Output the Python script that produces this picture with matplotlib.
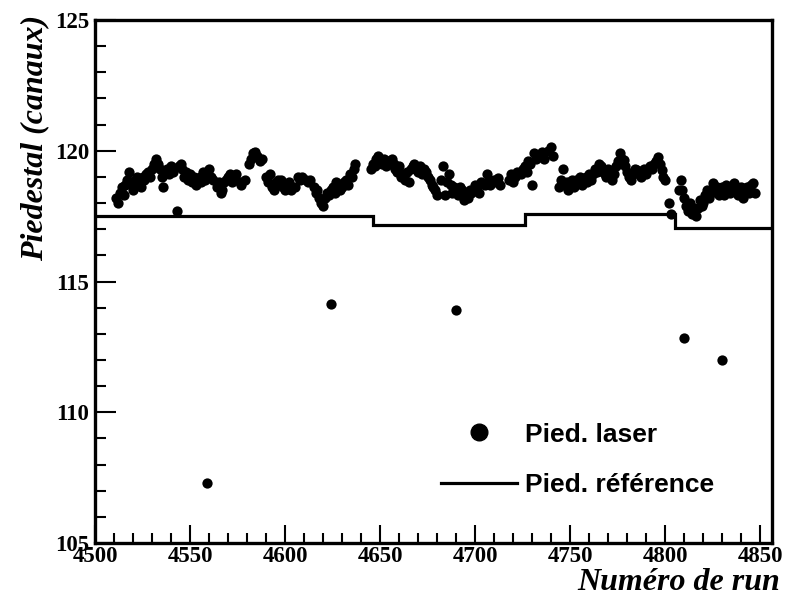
import matplotlib
matplotlib.use("Agg")
import matplotlib.pyplot as plt
from matplotlib.lines import Line2D
import numpy as np

# ---- data ----
runs = [
    4511, 4512, 4513, 4514, 4515, 4516, 4517, 4518, 4519, 4520, 4521, 4522, 4523, 4524, 4525,
    4526, 4527, 4528, 4529, 4530, 4531, 4532, 4533, 4534, 4535, 4536, 4537, 4538, 4539, 4540,
    4541, 4543, 4544, 4545, 4546, 4547, 4548, 4549, 4550, 4551, 4552, 4553, 4555, 4556, 4557,
    4558, 4559, 4560, 4561, 4562, 4564, 4565, 4566, 4567, 4568, 4569, 4570, 4571, 4572, 4573,
    4574, 4576, 4577, 4579, 4581, 4582, 4583, 4584, 4585, 4587, 4588,
    4590, 4591, 4592, 4593, 4594, 4595, 4596, 4597, 4598, 4599, 4600, 4602, 4603, 4605, 4607,
    4608, 4609, 4611, 4612, 4613, 4615, 4616, 4617, 4618, 4619, 4620, 4621, 4622, 4623, 4624,
    4625, 4626, 4627, 4628, 4629, 4630, 4631, 4632, 4633, 4634, 4635, 4636, 4637,
    4645, 4646, 4647, 4648, 4649, 4650, 4651, 4652, 4653, 4654, 4655, 4656, 4657, 4658, 4659,
    4660, 4661, 4662, 4663, 4664, 4665, 4666, 4667, 4668, 4669, 4670, 4671, 4672, 4673, 4674,
    4675, 4676, 4677, 4678, 4679, 4680,
    4682, 4683, 4684, 4685, 4686, 4687, 4688, 4689, 4691, 4692, 4693, 4694, 4695, 4696, 4697,
    4698, 4700, 4701, 4702, 4703, 4705, 4706, 4707, 4708, 4710, 4711, 4712, 4713, 4718, 4719,
    4720, 4721, 4722, 4724, 4725, 4726, 4727, 4728, 4729, 4730, 4731, 4732, 4733, 4735, 4736,
    4738, 4740, 4741,
    4744, 4745, 4746, 4747, 4748, 4749, 4750, 4751, 4752, 4753, 4754, 4755, 4756, 4757, 4758,
    4759, 4760, 4761, 4762, 4763, 4764, 4765, 4766, 4767, 4768, 4769, 4770, 4771, 4772, 4773,
    4774, 4775, 4776, 4777, 4778, 4779, 4780, 4781, 4782, 4783, 4784, 4785, 4786, 4787, 4788,
    4789, 4790, 4792, 4793, 4794, 4795, 4796, 4797, 4798, 4799, 4800, 4802, 4803,
    4807, 4808, 4809, 4810, 4811, 4812, 4813, 4814, 4815, 4816, 4817, 4818, 4819, 4820, 4821,
    4822, 4823, 4824, 4825, 4826, 4827, 4828, 4829, 4830, 4831, 4832, 4833, 4834, 4835, 4836,
    4837, 4838, 4839, 4840, 4841, 4842, 4843, 4844, 4845, 4846, 4847,
    4559, 4624, 4690, 4810, 4830,
]
pied_laser = [
    118.2, 118.0, 118.4, 118.6, 118.3, 118.7, 118.9, 119.2, 118.8, 118.5, 118.9, 119.0, 118.7, 118.6, 119.0,
    118.9, 119.1, 119.2, 119.0, 119.3, 119.5, 119.7, 119.5, 119.3, 119.0, 118.6, 119.1, 119.3, 119.1, 119.4,
    119.2, 117.7, 119.4, 119.5, 119.3, 119.0, 119.2, 118.9, 119.1, 118.8, 119.0, 118.7, 119.0, 118.8, 119.2,
    118.9, 119.1, 119.3, 119.0, 118.9, 118.6, 118.8, 118.4, 118.5, 118.8, 118.9, 119.0, 119.1, 118.8, 119.0,
    119.1, 118.8, 118.7, 118.9, 119.5, 119.7, 119.9, 119.95, 119.8, 119.6, 119.7,
    119.0, 118.8, 119.1, 118.6, 118.5, 118.8, 118.9, 118.7, 118.9, 118.6, 118.5, 118.8, 118.5, 118.6, 119.0,
    118.9, 119.0, 118.9, 118.8, 118.9, 118.6, 118.4, 118.5, 118.2, 118.0, 117.9, 118.2, 118.4, 118.3, 118.5,
    118.6, 118.4, 118.8, 118.7, 118.5, 118.6, 118.8, 118.9, 118.7, 119.1, 119.0, 119.3, 119.5,
    119.3, 119.5, 119.4, 119.7, 119.8, 119.6, 119.5, 119.7, 119.4, 119.6, 119.5, 119.7, 119.5, 119.3, 119.2,
    119.4, 119.0, 119.1, 118.9, 119.2, 118.8, 119.3, 119.4, 119.5, 119.3, 119.2, 119.4, 119.1, 119.3, 119.2,
    119.0, 118.9, 118.7, 118.6, 118.5, 118.3,
    118.9, 119.4, 118.3, 118.8, 119.1, 118.7, 118.4, 118.6, 118.3, 118.6, 118.5, 118.1, 118.3, 118.2, 118.5,
    118.4, 118.7, 118.6, 118.4, 118.8, 118.7, 119.1, 118.9, 118.7, 118.9, 118.8, 118.95, 118.7, 118.9, 119.1,
    118.8, 119.0, 119.2, 119.1, 119.3, 119.4, 119.2, 119.6, 119.5, 118.7, 119.9, 119.7, 119.8, 119.95, 119.7,
    120.0, 120.15, 119.8,
    118.6, 118.9, 119.3, 118.7, 118.8, 118.5, 118.7, 118.9, 118.6, 118.9, 118.8, 119.0, 118.7, 118.9, 119.0,
    118.8, 119.1, 118.9, 119.1, 119.3, 119.2, 119.5, 119.4, 119.2, 119.1, 119.0, 119.3, 119.1, 118.9, 119.1,
    119.4, 119.6, 119.9, 119.7, 119.65, 119.4, 119.2, 119.0, 118.9, 119.1, 119.3, 119.26, 119.1, 119.0, 119.2,
    119.3, 119.1, 119.4, 119.3, 119.5, 119.6, 119.76, 119.5, 119.26, 119.0, 118.9, 118.0, 117.6,
    118.5, 118.9, 118.5, 118.2, 117.9, 117.7, 118.0, 117.6, 117.8, 117.5, 117.8, 118.1, 117.9, 118.0, 118.3,
    118.5, 118.2, 118.4, 118.75, 118.5, 118.6, 118.3, 118.4, 118.6, 118.3, 118.7, 118.5, 118.4, 118.6, 118.75,
    118.5, 118.3, 118.4, 118.6, 118.2, 118.5, 118.6, 118.4, 118.7, 118.75, 118.4,
    107.3, 114.15, 113.9, 112.85, 112.0,
]
ref_edges = [4500, 4646, 4726, 4805, 4860]
ref_values = [117.5, 117.18, 117.6, 117.03]

x_ticks = [4500, 4550, 4600, 4650, 4700, 4750, 4800, 4850]
y_ticks = [105, 110, 115, 120, 125]

# ---- figure ----
fig = plt.figure(figsize=(7.86, 6.08), dpi=100)
ax = fig.add_axes([0.1209, 0.107, 0.982 - 0.1209, 0.967 - 0.107])

ax.plot(runs, pied_laser, linestyle="none", marker="o", markersize=7.4,
        color="black", markeredgewidth=0)
ax.stairs(ref_values, ref_edges, baseline=None, color="black", linewidth=2.3)

ax.set_xlim(4500, 4856)
ax.set_ylim(105, 125)
ax.set_xticks(x_ticks)
ax.set_xticks(np.arange(4500, 4860, 10), minor=True)
ax.set_yticks(y_ticks)
ax.set_yticks(np.arange(105, 126, 1), minor=True)

tickfont = dict(family="Liberation Serif", weight="bold", size=16.5)
ax.set_xticklabels([str(t) for t in x_ticks], fontdict=tickfont)
ax.set_yticklabels([str(t) for t in y_ticks], fontdict=tickfont)

ax.tick_params(axis="both", which="both", direction="in", color="black", width=1.5)
ax.tick_params(axis="x", which="major", length=13, pad=2)
ax.tick_params(axis="x", which="minor", length=7)
ax.tick_params(axis="y", which="major", length=15, pad=4)
ax.tick_params(axis="y", which="minor", length=8)

for sp in ax.spines.values():
    sp.set_linewidth(2.4)

labfont = dict(family="Liberation Serif", weight="bold", style="italic", size=23)
ax.set_xlabel("Numéro de run", fontdict=labfont, loc="right", labelpad=1)
ax.xaxis.label.set_x(1.012)
ax.set_ylabel("Piedestal (canaux)", fontdict=labfont, loc="top", labelpad=4)
ax.yaxis.label.set_y(1.01)

handles = [
    Line2D([], [], linestyle="none", marker="o", markersize=12, color="black"),
    Line2D([], [], color="black", linewidth=2.3),
]
leg = ax.legend(handles, ["Pied. laser", "Pied. référence"], frameon=False,
                loc="lower right", bbox_to_anchor=(0.914, 0.088),
                borderpad=0, borderaxespad=0,
                prop=dict(family="Liberation Sans", weight="bold", size=19),
                handlelength=2.85, handletextpad=0.3, labelspacing=1.0)

fig.savefig("out.png", dpi=100, facecolor="white")
